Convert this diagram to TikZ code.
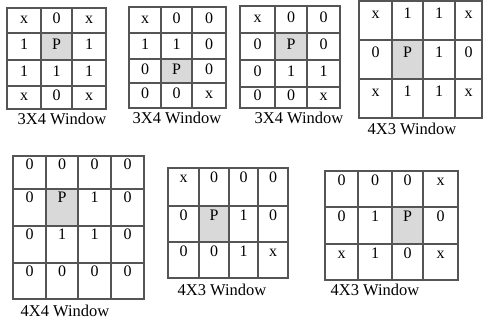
\documentclass[tikz,border=0pt]{standalone}
\usepackage{fontspec}
\setmainfont{Liberation Serif}
\definecolor{gridline}{RGB}{85,85,85}
\definecolor{pgray}{RGB}{217,217,217}
\tikzset{
  cellbox/.style={draw=gridline, line width=1.3pt, inner sep=0pt, outer sep=0pt, anchor=north west},
  celltext/.style={font=\fontsize{16}{16}\selectfont, inner sep=0pt, text height=0.66em, text depth=0pt},
  caption/.style={font=\fontsize{16.5}{18}\selectfont, inner sep=0pt}
}
% #1 name, #2 x boundaries, #3 y boundaries, #4 rows, #5 gray row, #6 gray col, #7 text offset from top (0 = centred)
\newcommand\wingrid[7]{%
  \foreach \rowentries [count=\r] in {#4} {
    \foreach \e [count=\c] in \rowentries {
      \pgfmathsetmacro\xa{{#2}[\c-1]}
      \pgfmathsetmacro\xb{{#2}[\c]}
      \pgfmathsetmacro\ya{{#3}[\r-1]}
      \pgfmathsetmacro\yb{{#3}[\r]}
      \pgfmathsetmacro\ww{\xb-\xa}
      \pgfmathsetmacro\hh{\yb-\ya}
      \pgfmathtruncatemacro\isp{and(\r==#5,\c==#6)}
      \ifnum\isp=1 \def\cf{pgray}\else\def\cf{white}\fi
      \node[cellbox, fill=\cf, minimum width=\ww pt, minimum height=\hh pt] (#1-\r-\c) at (\xa,\ya) {};
      \ifdim #7pt=0pt
        \node[celltext] (#1-\r-\c-t) at (#1-\r-\c.center) {\e};
      \else
        \node[celltext] (#1-\r-\c-t) at ([yshift=-#7pt]#1-\r-\c.north) {\e};
      \fi
    }
  }
}
\begin{document}
\begin{tikzpicture}[x=1pt,y=-1pt]
\useasboundingbox (0,0) rectangle (484,320);
\fill[white] (0,0) rectangle (484,320);
\wingrid{ga}{7,41,72,106}{8,33,60,86,109}{{x,0,x},{1,P,1},{1,1,1},{x,0,x}}{2}{2}{0}
\wingrid{gb}{129,161,192,226}{7,33,59,83,108}{{x,0,0},{1,1,0},{0,P,0},{0,0,x}}{3}{2}{0}
\wingrid{gc}{240,275,307,340}{6,33,60,87,108}{{x,0,0},{0,P,0},{0,1,1},{0,0,x}}{2}{2}{0}
\wingrid{gd}{359,392,423,455,482}{1,40,79,118}{{x,1,1,x},{0,P,1,0},{x,1,1,x}}{2}{2}{14}
\wingrid{ge}{13,46,78,111,144}{156,189,226,263,299}{{0,0,0,0},{0,P,1,0},{0,1,1,0},{0,0,0,0}}{2}{2}{10}
\wingrid{gf}{168,199,229,258,288}{168,206,242,278}{{x,0,0,0},{0,P,1,0},{0,0,1,x}}{2}{2}{11}
\wingrid{gg}{325,358,392,423,458}{171,207,244,280}{{0,0,0,x},{0,1,P,0},{x,1,0,x}}{2}{3}{11}
\node[caption] (cap1) at (62,119) {3X4 Window};
\node[caption] (cap2) at (177,118) {3X4 Window};
\node[caption] (cap3) at (299,118) {3X4 Window};
\node[caption] (cap4) at (412,129) {4X3 Window};
\node[caption] (cap5) at (65,311) {4X4 Window};
\node[caption] (cap6) at (222,290) {4X3 Window};
\node[caption] (cap7) at (375,290) {4X3 Window};
\end{tikzpicture}
\end{document}
